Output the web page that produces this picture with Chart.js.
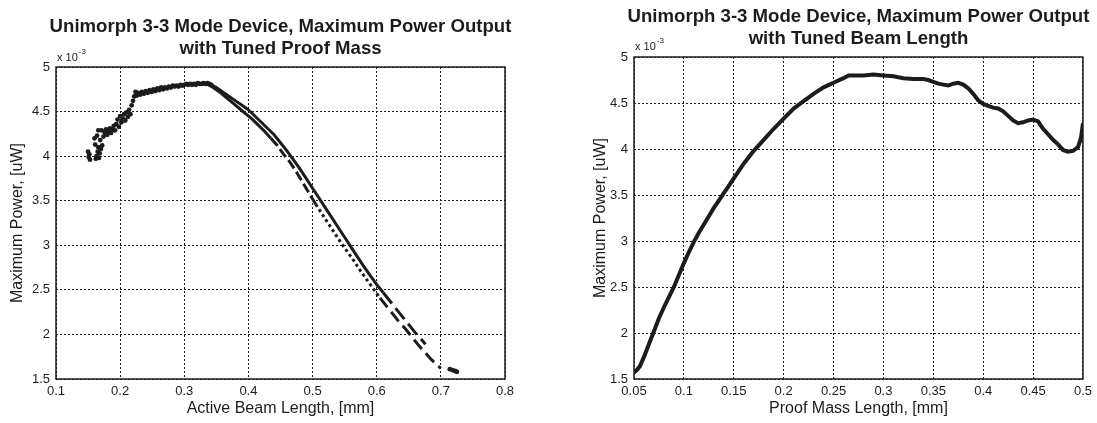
<!DOCTYPE html>
<html>
<head>
<meta charset="utf-8">
<script src="https://cdn.jsdelivr.net/npm/chart.js@4.4.1/dist/chart.umd.min.js"></script>
<style>
  html, body { margin: 0; padding: 0; background: #fff; }
  #wrap { position: relative; width: 1097px; height: 423px; overflow: hidden; }
  #beamChart { position: absolute; left: 0; top: 0; }
  #massChart { position: absolute; left: 548px; top: 0; }
</style>
</head>
<body>
<div id="wrap">
  <canvas id="beamChart" width="548" height="423"></canvas>
  <canvas id="massChart" width="549" height="423"></canvas>
</div>
<script>
// ---- Tuned proof mass: power vs active beam length ----
const beamTicks = [0.1, 0.2, 0.3, 0.4, 0.5, 0.6, 0.7, 0.8];
const powerTicks = [1.5, 2, 2.5, 3, 3.5, 4, 4.5, 5];

// scattered samples (rising part and the far tail)
const beamScatterLen = [
  0.150, 0.151, 0.152, 0.153, 0.160, 0.161, 0.162, 0.163, 0.164, 0.165,
  0.166, 0.166, 0.167, 0.168, 0.169, 0.170, 0.171, 0.172, 0.174, 0.176,
  0.178, 0.180, 0.182, 0.184, 0.186, 0.188, 0.190, 0.192, 0.194, 0.196,
  0.198, 0.200, 0.202, 0.204, 0.206, 0.208, 0.210, 0.212, 0.214, 0.216,
  0.218, 0.220, 0.222, 0.224, 0.226, 0.228, 0.231, 0.234, 0.237, 0.240,
  0.243, 0.246, 0.249, 0.252, 0.255, 0.258, 0.261, 0.264, 0.267, 0.270,
  0.273, 0.276, 0.279, 0.282, 0.285, 0.288, 0.291, 0.294, 0.297, 0.300,
  0.303, 0.306, 0.309, 0.312, 0.315, 0.318, 0.321, 0.324, 0.327, 0.330,
  0.333, 0.336, 0.339, 0.342, 0.714, 0.718, 0.722, 0.725
];
const beamScatterPow = [
  4.05, 3.99, 4.02, 3.96, 4.20, 4.13, 3.97, 4.00, 4.23, 4.05,
  4.29, 4.10, 3.98, 4.03, 4.18, 4.08, 4.29, 4.12, 4.22, 4.26,
  4.30, 4.24, 4.28, 4.31, 4.26, 4.30, 4.34, 4.29, 4.36, 4.41,
  4.33, 4.45, 4.38, 4.42, 4.47, 4.40, 4.49, 4.44, 4.52, 4.47,
  4.57, 4.62, 4.67, 4.72, 4.68, 4.71, 4.69, 4.72, 4.70, 4.73,
  4.71, 4.74, 4.72, 4.75, 4.73, 4.76, 4.74, 4.77, 4.75, 4.77,
  4.76, 4.78, 4.77, 4.79, 4.78, 4.79, 4.78, 4.80, 4.79, 4.80,
  4.81, 4.80, 4.81, 4.80, 4.81, 4.80, 4.82, 4.81, 4.81, 4.82,
  4.81, 4.82, 4.81, 4.80, 1.61, 1.60, 1.59, 1.58
];

// upper falling branch
const beamUpperLen = [
  0.340, 0.350, 0.360, 0.370, 0.380, 0.390, 0.400, 0.410, 0.420, 0.430,
  0.440, 0.450, 0.460, 0.470, 0.480, 0.490, 0.500, 0.510, 0.520, 0.530,
  0.540, 0.550, 0.560, 0.570, 0.580, 0.590, 0.600, 0.610, 0.620, 0.630,
  0.640, 0.650, 0.660, 0.670, 0.676
];
const beamUpperPow = [
  4.81, 4.77, 4.72, 4.67, 4.62, 4.57, 4.52, 4.45, 4.38, 4.31,
  4.24, 4.15, 4.06, 3.96, 3.86, 3.75, 3.64, 3.53, 3.42, 3.31,
  3.20, 3.09, 2.98, 2.87, 2.76, 2.66, 2.56, 2.47, 2.38, 2.29,
  2.20, 2.11, 2.02, 1.94, 1.89
];

// lower falling branch
const beamLowerLen = [
  0.335, 0.345, 0.355, 0.365, 0.375, 0.385, 0.395, 0.405, 0.415, 0.425,
  0.435, 0.445, 0.455, 0.465, 0.475, 0.485, 0.495, 0.505, 0.515, 0.525,
  0.535, 0.545, 0.555, 0.565, 0.575, 0.585, 0.595, 0.605, 0.615, 0.625,
  0.635, 0.645, 0.655, 0.665, 0.675, 0.685, 0.695, 0.700
];
const beamLowerPow = [
  4.81, 4.77, 4.72, 4.66, 4.60, 4.54, 4.48, 4.42, 4.35, 4.28,
  4.20, 4.12, 4.02, 3.93, 3.82, 3.70, 3.58, 3.46, 3.35, 3.24,
  3.13, 3.02, 2.92, 2.82, 2.71, 2.61, 2.51, 2.41, 2.32, 2.23,
  2.14, 2.06, 1.97, 1.88, 1.80, 1.72, 1.65, 1.62
];

// ---- Tuned beam length: power vs proof mass length ----
const massTicks = [0.05, 0.1, 0.15, 0.2, 0.25, 0.3, 0.35, 0.4, 0.45, 0.5];
const massLen = [
  0.050, 0.053, 0.056, 0.060, 0.065, 0.070, 0.075, 0.080, 0.085, 0.090,
  0.095, 0.100, 0.105, 0.110, 0.115, 0.120, 0.125, 0.130, 0.135, 0.140,
  0.145, 0.150, 0.160, 0.170, 0.180, 0.190, 0.200, 0.210, 0.220, 0.230,
  0.240, 0.250, 0.260, 0.265, 0.270, 0.280, 0.290, 0.300, 0.310, 0.320,
  0.330, 0.340, 0.345, 0.350, 0.355, 0.360, 0.365, 0.370, 0.375, 0.380,
  0.385, 0.390, 0.395, 0.400, 0.405, 0.410, 0.415, 0.420, 0.425, 0.430,
  0.435, 0.440, 0.445, 0.450, 0.455, 0.460, 0.465, 0.470, 0.475, 0.480,
  0.485, 0.490, 0.495, 0.498, 0.500
];
const massPow = [
  1.57, 1.60, 1.64, 1.74, 1.88, 2.02, 2.16, 2.28, 2.39, 2.50,
  2.63, 2.76, 2.88, 2.99, 3.09, 3.18, 3.27, 3.36, 3.44, 3.52,
  3.60, 3.68, 3.84, 3.98, 4.10, 4.22, 4.33, 4.44, 4.52, 4.60,
  4.67, 4.72, 4.77, 4.80, 4.80, 4.80, 4.81, 4.80, 4.79, 4.77,
  4.76, 4.76, 4.75, 4.73, 4.71, 4.70, 4.69, 4.71, 4.72, 4.70,
  4.66, 4.60, 4.53, 4.49, 4.47, 4.45, 4.44, 4.41, 4.36, 4.31,
  4.28, 4.29, 4.31, 4.32, 4.30, 4.22, 4.16, 4.10, 4.05, 3.99,
  3.97, 3.98, 4.02, 4.12, 4.28
];

const pairs = (xs, ys) => xs.map((x, i) => ({ x, y: ys[i] }));
const INK = '#1c1c1c';
const FONT = '"Liberation Sans", Arial, Helvetica, sans-serif';
Chart.defaults.font.family = FONT;
Chart.defaults.color = INK;

// Title lines, the axis multiplier and the closed axes box
const matlabFrame = {
  id: 'matlabFrame',
  afterDatasetsDraw(chart, args, opts) {
    const { ctx, chartArea: a } = chart;
    ctx.save();
    ctx.strokeStyle = INK;
    ctx.lineWidth = 1.5;
    ctx.strokeRect(a.left, a.top, a.right - a.left, a.bottom - a.top);
    ctx.restore();
  },
  afterDraw(chart, args, opts) {
    const { ctx, chartArea: a } = chart;
    ctx.save();
    ctx.fillStyle = INK;
    ctx.textBaseline = 'middle';
    ctx.textAlign = 'center';
    ctx.font = 'bold 18.6px ' + FONT;
    const cx = (a.left + a.right) / 2;
    opts.lines.forEach((t, i) => ctx.fillText(t, cx, opts.titleY + i * 22));
    ctx.textAlign = 'left';
    ctx.font = '11px ' + FONT;
    ctx.fillText('x 10', a.left + 1, opts.expY);
    const w = ctx.measureText('x 10').width;
    ctx.font = '8px ' + FONT;
    ctx.fillText('-3', a.left + 2 + w, opts.expY - 6);
    ctx.restore();
  }
};

const fmt = v => String(+(+v).toFixed(2));

function axes(xTicks, xMin, xMax, xTitle, yWidth, yTitlePad) {
  return {
    x: {
      type: 'linear', min: xMin, max: xMax,
      afterBuildTicks: s => { s.ticks = xTicks.map(v => ({ value: v })); },
      afterFit: s => { s.height = 44; },
      grid: { color: INK, lineWidth: 1, drawTicks: false },
      border: { display: false, dash: [2, 2] },
      ticks: { padding: 5, font: { size: 13 }, color: INK, maxRotation: 0, autoSkip: false, callback: fmt },
      title: { display: true, text: xTitle, font: { size: 16 }, color: INK, padding: { top: 0, bottom: 5 } }
    },
    y: {
      type: 'linear', min: 1.5, max: 5,
      afterBuildTicks: s => { s.ticks = powerTicks.map(v => ({ value: v })); },
      afterFit: s => { s.width = yWidth; },
      grid: { color: INK, lineWidth: 1, drawTicks: false },
      border: { display: false, dash: [2, 2] },
      ticks: { padding: 6, font: { size: 13 }, color: INK, autoSkip: false, callback: fmt },
      title: { display: true, text: 'Maximum Power, [uW]', font: { size: 16 }, color: INK, padding: { top: yTitlePad, bottom: 0 } }
    }
  };
}

const common = {
  responsive: false,
  devicePixelRatio: 1,
  animation: false,
  events: [],
  plugins: { legend: { display: false }, tooltip: { enabled: false }, title: { display: false } }
};

new Chart(document.getElementById('beamChart'), {
  type: 'scatter',
  data: {
    datasets: [
      {
        data: pairs(beamScatterLen, beamScatterPow),
        showLine: false, pointRadius: 2.4, pointBorderWidth: 0,
        pointBackgroundColor: INK
      },
      {
        data: pairs(beamUpperLen, beamUpperPow),
        showLine: true, pointRadius: 0, borderColor: INK, borderWidth: 3,
        segment: { borderDash: c => (c.p0.parsed.x >= 0.61 ? [14, 6] : undefined) }
      },
      {
        data: pairs(beamLowerLen, beamLowerPow),
        showLine: true, pointRadius: 0, borderColor: INK, borderWidth: 3,
        segment: {
          borderDash: c => {
            const x = c.p0.parsed.x;
            if (x < 0.43) return undefined;
            if (x < 0.5) return [10, 4];
            if (x < 0.6) return [3, 3];
            return [12, 6];
          }
        }
      }
    ]
  },
  options: Object.assign({}, common, {
    layout: { padding: { top: 67, right: 43, left: 0, bottom: 0 } },
    scales: axes(beamTicks, 0.1, 0.8, 'Active Beam Length, [mm]', 56, 8),
    plugins: Object.assign({}, common.plugins, {
      matlabFrame: {
        lines: ['Unimorph 3-3 Mode Device, Maximum Power Output', 'with Tuned Proof Mass'],
        titleY: 27, expY: 58
      }
    })
  }),
  plugins: [matlabFrame]
});

new Chart(document.getElementById('massChart'), {
  type: 'scatter',
  data: {
    datasets: [
      {
        data: pairs(massLen, massPow),
        showLine: true, pointRadius: 0, borderColor: INK, borderWidth: 4
      }
    ]
  },
  options: Object.assign({}, common, {
    layout: { padding: { top: 57, right: 12, left: 0, bottom: 0 } },
    scales: axes(massTicks, 0.05, 0.5, 'Proof Mass Length, [mm]', 86, 43),
    plugins: Object.assign({}, common.plugins, {
      matlabFrame: {
        lines: ['Unimorph 3-3 Mode Device, Maximum Power Output', 'with Tuned Beam Length'],
        titleY: 17, expY: 47
      }
    })
  }),
  plugins: [matlabFrame]
});
</script>
</body>
</html>
